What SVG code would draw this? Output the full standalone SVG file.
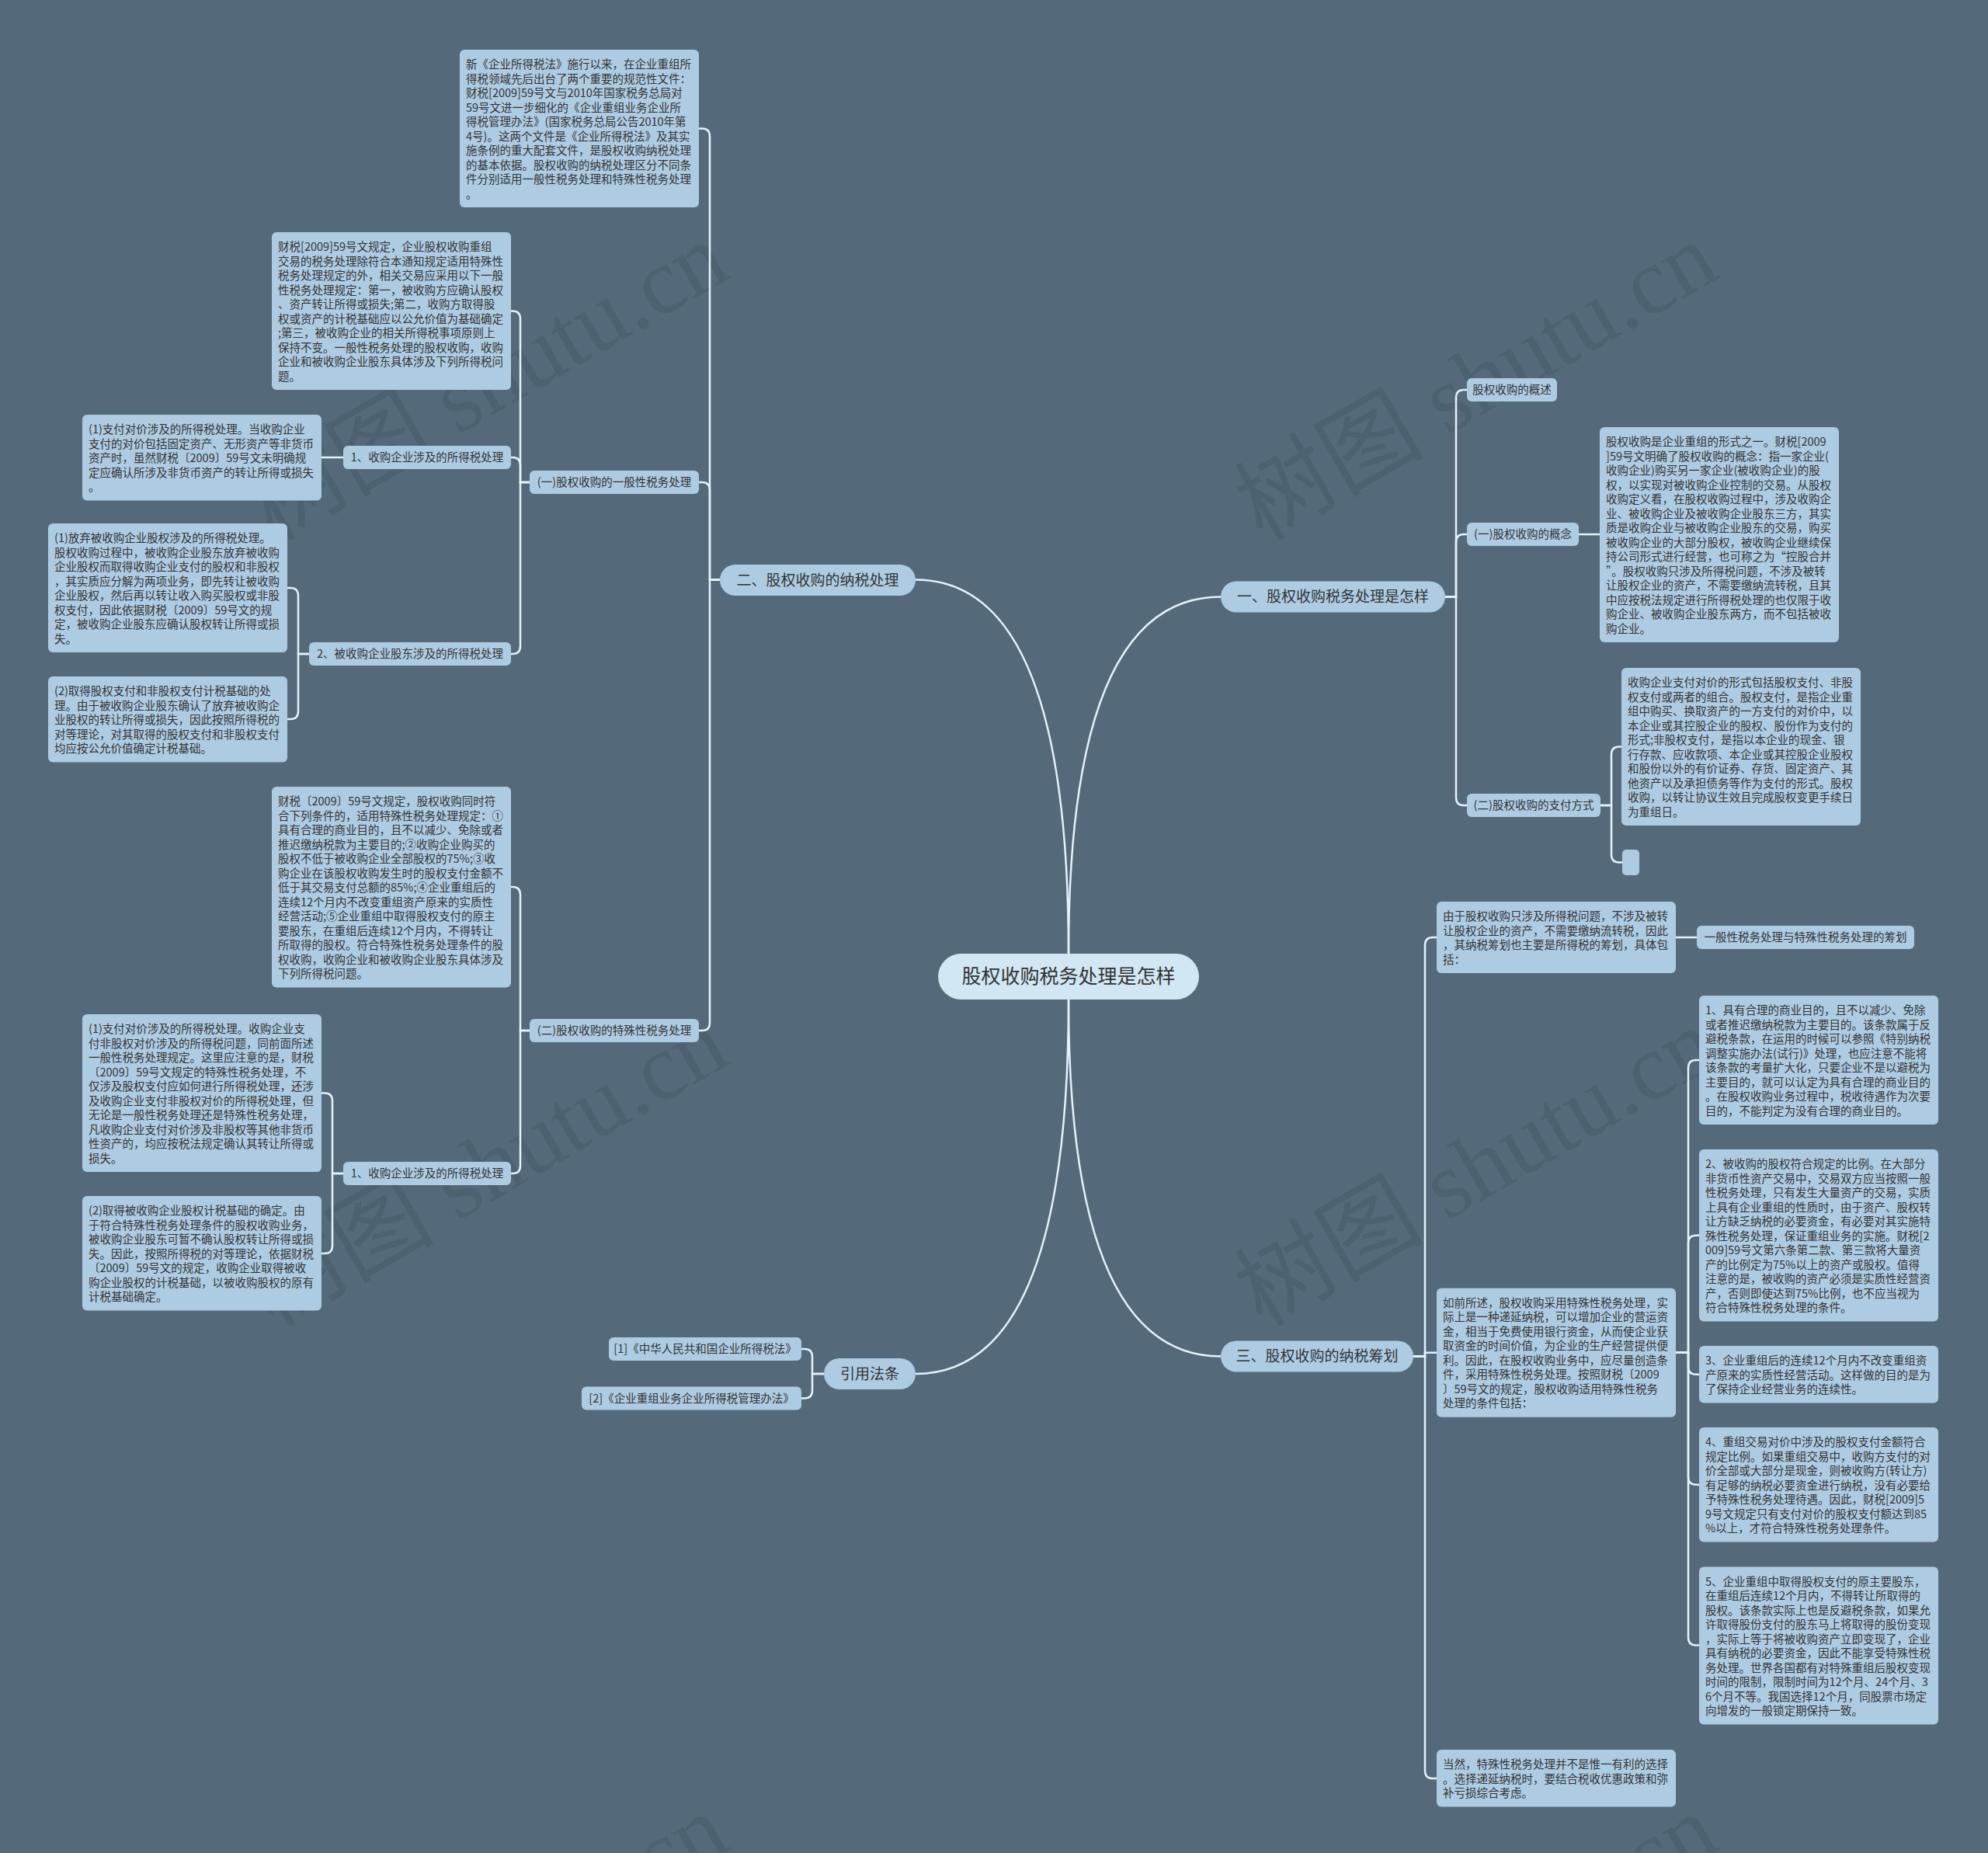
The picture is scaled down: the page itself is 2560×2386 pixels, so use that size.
<svg xmlns="http://www.w3.org/2000/svg" width="2560" height="2386" viewBox="0 0 2560 2386">
<style>
.n{fill:#adcce2}
.c{fill:#d2e7f4}
.t{font-family:"Noto Sans CJK SC","Liberation Sans",sans-serif;font-size:14.5px;fill:#333}
.m{text-anchor:middle}
.l1{font-size:19px}
.root{font-size:25px}
.lk{fill:none;stroke:#e4f2f9;stroke-width:2.5}
.wm{font-family:"Liberation Serif","Noto Sans CJK SC",serif;font-size:122px;fill:#000;opacity:0.07}
</style>
<rect width="2560" height="2386" fill="#546a7a"/>
<g id="watermarks">
<text class="wm" transform="translate(351 698) rotate(-30)">树图 shutu.cn</text>
<text class="wm" transform="translate(1625 698) rotate(-30)">树图 shutu.cn</text>
<text class="wm" transform="translate(351 1710) rotate(-30)">树图 shutu.cn</text>
<text class="wm" transform="translate(1625 1710) rotate(-30)">树图 shutu.cn</text>
<text class="wm" transform="translate(351 2722) rotate(-30)">树图 shutu.cn</text>
<text class="wm" transform="translate(1625 2722) rotate(-30)">树图 shutu.cn</text>
</g>
<g id="connectors" class="lk">
<path d="M1376 1228 Q1376 746.5 1179 746.5"/>
<path d="M1376 1228 Q1376 768.5 1572 768.5"/>
<path d="M1376 1287 Q1376 1746.5 1572 1746.5"/>
<path d="M1376 1287 Q1376 1769 1179 1769"/>
<path d="M927 746.5 H914 V175.5 Q914 165.5 904 165.5 H900"/>
<path d="M927 746.5 H914 V631 Q914 621 904 621 H900"/>
<path d="M927 746.5 H914 V1317 Q914 1327 904 1327 H900"/>
<path d="M682 621 H670 V410.5 Q670 400.5 660 400.5 H658"/>
<path d="M682 621 H670 V599 Q670 589 660 589 H658"/>
<path d="M682 621 H670 V832 Q670 842 660 842 H658"/>
<path d="M442 589 H414"/>
<path d="M398 842 H384 V767 Q384 757 374 757 H370"/>
<path d="M398 842 H384 V916 Q384 926 374 926 H370"/>
<path d="M682 1327 H670 V1152 Q670 1142 660 1142 H658"/>
<path d="M682 1327 H670 V1501 Q670 1511 660 1511 H658"/>
<path d="M442 1511 H428 V1417.5 Q428 1407.5 418 1407.5 H414"/>
<path d="M442 1511 H428 V1604 Q428 1614 418 1614 H414"/>
<path d="M1061 1769 H1046 V1747 Q1046 1737 1036 1737 H1032"/>
<path d="M1061 1769 H1046 V1790.5 Q1046 1800.5 1036 1800.5 H1032"/>
<path d="M1861 768.5 H1875 V512 Q1875 502 1885 502 H1889"/>
<path d="M1861 768.5 H1875 V698 Q1875 688 1885 688 H1889"/>
<path d="M1861 768.5 H1875 V1027 Q1875 1037 1885 1037 H1889"/>
<path d="M2033 688 H2060"/>
<path d="M2061 1037 H2075 V971.5 Q2075 961.5 2085 961.5 H2088"/>
<path d="M2061 1037 H2075 V1100.5 Q2075 1110.5 2085 1110.5 H2089"/>
<path d="M1820 1746.5 H1835 V1217 Q1835 1207 1845 1207 H1850"/>
<path d="M1820 1746.5 H1835 V1741.75 H1850"/>
<path d="M1820 1746.5 H1835 V2280 Q1835 2290 1845 2290 H1850"/>
<path d="M2158 1207 H2185"/>
<path d="M2158 1741.75 H2174 V1375 Q2174 1365 2184 1365 H2188"/>
<path d="M2158 1741.75 H2174 V1600.75 Q2174 1590.75 2184 1590.75 H2188"/>
<path d="M2158 1741.75 H2174 V1759.75 Q2174 1769.75 2184 1769.75 H2188"/>
<path d="M2158 1741.75 H2174 V1901.75 Q2174 1911.75 2184 1911.75 H2188"/>
<path d="M2158 1741.75 H2174 V2108.5 Q2174 2118.5 2184 2118.5 H2188"/>
</g>
<g id="root">
<rect class="c" x="1208" y="1228" width="336" height="59" rx="29.5"/>
<text class="t m root" x="1376" y="1266">股权收购税务处理是怎样</text>
</g>
<g id="n-er">
<rect class="n" x="927" y="727" width="252" height="40" rx="20"/>
<text class="t m l1" x="1053" y="753.5">二、股权收购的纳税处理</text>
</g>
<g id="n-A">
<rect class="n" x="592" y="64" width="308" height="203" rx="6"/>
<text class="t" x="600" y="88"><tspan x="600">新《企业所得税法》施行以来，在企业重组所</tspan><tspan x="600" dy="18.5">得税领域先后出台了两个重要的规范性文件：</tspan><tspan x="600" dy="18.5">财税[2009]59号文与2010年国家税务总局对</tspan><tspan x="600" dy="18.5">59号文进一步细化的《企业重组业务企业所</tspan><tspan x="600" dy="18.5">得税管理办法》(国家税务总局公告2010年第</tspan><tspan x="600" dy="18.5">4号)。这两个文件是《企业所得税法》及其实</tspan><tspan x="600" dy="18.5">施条例的重大配套文件，是股权收购纳税处理</tspan><tspan x="600" dy="18.5">的基本依据。股权收购的纳税处理区分不同条</tspan><tspan x="600" dy="18.5">件分别适用一般性税务处理和特殊性税务处理</tspan><tspan x="600" dy="18.5">。</tspan></text>
</g>
<g id="n-H">
<rect class="n" x="682" y="606" width="218" height="30" rx="6"/>
<text class="t m" x="791" y="626">(一)股权收购的一般性税务处理</text>
</g>
<g id="n-B">
<rect class="n" x="350" y="299" width="308" height="203" rx="6"/>
<text class="t" x="358" y="323"><tspan x="358">财税[2009]59号文规定，企业股权收购重组</tspan><tspan x="358" dy="18.5">交易的税务处理除符合本通知规定适用特殊性</tspan><tspan x="358" dy="18.5">税务处理规定的外，相关交易应采用以下一般</tspan><tspan x="358" dy="18.5">性税务处理规定：第一，被收购方应确认股权</tspan><tspan x="358" dy="18.5">、资产转让所得或损失;第二，收购方取得股</tspan><tspan x="358" dy="18.5">权或资产的计税基础应以公允价值为基础确定</tspan><tspan x="358" dy="18.5">;第三，被收购企业的相关所得税事项原则上</tspan><tspan x="358" dy="18.5">保持不变。一般性税务处理的股权收购，收购</tspan><tspan x="358" dy="18.5">企业和被收购企业股东具体涉及下列所得税问</tspan><tspan x="358" dy="18.5">题。</tspan></text>
</g>
<g id="n-D">
<rect class="n" x="442" y="574" width="216" height="30" rx="6"/>
<text class="t m" x="550" y="594">1、收购企业涉及的所得税处理</text>
</g>
<g id="n-C">
<rect class="n" x="106" y="534" width="308" height="110.5" rx="6"/>
<text class="t" x="114" y="558"><tspan x="114">(1)支付对价涉及的所得税处理。当收购企业</tspan><tspan x="114" dy="18.5">支付的对价包括固定资产、无形资产等非货币</tspan><tspan x="114" dy="18.5">资产时，虽然财税〔2009〕59号文未明确规</tspan><tspan x="114" dy="18.5">定应确认所涉及非货币资产的转让所得或损失</tspan><tspan x="114" dy="18.5">。</tspan></text>
</g>
<g id="n-G">
<rect class="n" x="398" y="827" width="260" height="30" rx="6"/>
<text class="t m" x="528" y="847">2、被收购企业股东涉及的所得税处理</text>
</g>
<g id="n-E">
<rect class="n" x="62" y="674" width="308" height="166" rx="6"/>
<text class="t" x="70" y="698"><tspan x="70">(1)放弃被收购企业股权涉及的所得税处理。</tspan><tspan x="70" dy="18.5">股权收购过程中，被收购企业股东放弃被收购</tspan><tspan x="70" dy="18.5">企业股权而取得收购企业支付的股权和非股权</tspan><tspan x="70" dy="18.5">，其实质应分解为两项业务，即先转让被收购</tspan><tspan x="70" dy="18.5">企业股权，然后再以转让收入购买股权或非股</tspan><tspan x="70" dy="18.5">权支付，因此依据财税〔2009〕59号文的规</tspan><tspan x="70" dy="18.5">定，被收购企业股东应确认股权转让所得或损</tspan><tspan x="70" dy="18.5">失。</tspan></text>
</g>
<g id="n-F">
<rect class="n" x="62" y="871" width="308" height="110.5" rx="6"/>
<text class="t" x="70" y="895"><tspan x="70">(2)取得股权支付和非股权支付计税基础的处</tspan><tspan x="70" dy="18.5">理。由于被收购企业股东确认了放弃被收购企</tspan><tspan x="70" dy="18.5">业股权的转让所得或损失，因此按照所得税的</tspan><tspan x="70" dy="18.5">对等理论，对其取得的股权支付和非股权支付</tspan><tspan x="70" dy="18.5">均应按公允价值确定计税基础。</tspan></text>
</g>
<g id="n-J">
<rect class="n" x="682" y="1312" width="218" height="30" rx="6"/>
<text class="t m" x="791" y="1332">(二)股权收购的特殊性税务处理</text>
</g>
<g id="n-I">
<rect class="n" x="350" y="1013" width="308" height="258.5" rx="6"/>
<text class="t" x="358" y="1037"><tspan x="358">财税〔2009〕59号文规定，股权收购同时符</tspan><tspan x="358" dy="18.5">合下列条件的，适用特殊性税务处理规定：①</tspan><tspan x="358" dy="18.5">具有合理的商业目的，且不以减少、免除或者</tspan><tspan x="358" dy="18.5">推迟缴纳税款为主要目的;②收购企业购买的</tspan><tspan x="358" dy="18.5">股权不低于被收购企业全部股权的75%;③收</tspan><tspan x="358" dy="18.5">购企业在该股权收购发生时的股权支付金额不</tspan><tspan x="358" dy="18.5">低于其交易支付总额的85%;④企业重组后的</tspan><tspan x="358" dy="18.5">连续12个月内不改变重组资产原来的实质性</tspan><tspan x="358" dy="18.5">经营活动;⑤企业重组中取得股权支付的原主</tspan><tspan x="358" dy="18.5">要股东，在重组后连续12个月内，不得转让</tspan><tspan x="358" dy="18.5">所取得的股权。符合特殊性税务处理条件的股</tspan><tspan x="358" dy="18.5">权收购，收购企业和被收购企业股东具体涉及</tspan><tspan x="358" dy="18.5">下列所得税问题。</tspan></text>
</g>
<g id="n-M">
<rect class="n" x="442" y="1496" width="216" height="30" rx="6"/>
<text class="t m" x="550" y="1516">1、收购企业涉及的所得税处理</text>
</g>
<g id="n-K">
<rect class="n" x="106" y="1306" width="308" height="203" rx="6"/>
<text class="t" x="114" y="1330"><tspan x="114">(1)支付对价涉及的所得税处理。收购企业支</tspan><tspan x="114" dy="18.5">付非股权对价涉及的所得税问题，同前面所述</tspan><tspan x="114" dy="18.5">一般性税务处理规定。这里应注意的是，财税</tspan><tspan x="114" dy="18.5">〔2009〕59号文规定的特殊性税务处理，不</tspan><tspan x="114" dy="18.5">仅涉及股权支付应如何进行所得税处理，还涉</tspan><tspan x="114" dy="18.5">及收购企业支付非股权对价的所得税处理，但</tspan><tspan x="114" dy="18.5">无论是一般性税务处理还是特殊性税务处理，</tspan><tspan x="114" dy="18.5">凡收购企业支付对价涉及非股权等其他非货币</tspan><tspan x="114" dy="18.5">性资产的，均应按税法规定确认其转让所得或</tspan><tspan x="114" dy="18.5">损失。</tspan></text>
</g>
<g id="n-L">
<rect class="n" x="106" y="1540" width="308" height="147.5" rx="6"/>
<text class="t" x="114" y="1564"><tspan x="114">(2)取得被收购企业股权计税基础的确定。由</tspan><tspan x="114" dy="18.5">于符合特殊性税务处理条件的股权收购业务，</tspan><tspan x="114" dy="18.5">被收购企业股东可暂不确认股权转让所得或损</tspan><tspan x="114" dy="18.5">失。因此，按照所得税的对等理论，依据财税</tspan><tspan x="114" dy="18.5">〔2009〕59号文的规定，收购企业取得被收</tspan><tspan x="114" dy="18.5">购企业股权的计税基础，以被收购股权的原有</tspan><tspan x="114" dy="18.5">计税基础确定。</tspan></text>
</g>
<g id="n-ref">
<rect class="n" x="1061" y="1749" width="118" height="40" rx="20"/>
<text class="t m l1" x="1120" y="1775.5">引用法条</text>
</g>
<g id="n-ref1">
<rect class="n" x="784" y="1722" width="248" height="30" rx="6"/>
<text class="t m" x="908" y="1742">[1]《中华人民共和国企业所得税法》</text>
</g>
<g id="n-ref2">
<rect class="n" x="749" y="1785.5" width="283" height="30" rx="6"/>
<text class="t m" x="890.5" y="1805.5">[2]《企业重组业务企业所得税管理办法》</text>
</g>
<g id="n-yi">
<rect class="n" x="1572" y="748.5" width="289" height="40" rx="20"/>
<text class="t m l1" x="1716.5" y="775">一、股权收购税务处理是怎样</text>
</g>
<g id="n-gaishu">
<rect class="n" x="1889" y="487" width="116" height="30" rx="6"/>
<text class="t m" x="1947" y="507">股权收购的概述</text>
</g>
<g id="n-gainian">
<rect class="n" x="1889" y="673" width="144" height="30" rx="6"/>
<text class="t m" x="1961" y="693">(一)股权收购的概念</text>
</g>
<g id="n-concept">
<rect class="n" x="2060" y="550" width="308" height="277" rx="6"/>
<text class="t" x="2068" y="574"><tspan x="2068">股权收购是企业重组的形式之一。财税[2009</tspan><tspan x="2068" dy="18.5">]59号文明确了股权收购的概念：指一家企业(</tspan><tspan x="2068" dy="18.5">收购企业)购买另一家企业(被收购企业)的股</tspan><tspan x="2068" dy="18.5">权，以实现对被收购企业控制的交易。从股权</tspan><tspan x="2068" dy="18.5">收购定义看，在股权收购过程中，涉及收购企</tspan><tspan x="2068" dy="18.5">业、被收购企业及被收购企业股东三方，其实</tspan><tspan x="2068" dy="18.5">质是收购企业与被收购企业股东的交易，购买</tspan><tspan x="2068" dy="18.5">被收购企业的大部分股权，被收购企业继续保</tspan><tspan x="2068" dy="18.5">持公司形式进行经营，也可称之为“控股合并</tspan><tspan x="2068" dy="18.5">”。股权收购只涉及所得税问题，不涉及被转</tspan><tspan x="2068" dy="18.5">让股权企业的资产，不需要缴纳流转税，且其</tspan><tspan x="2068" dy="18.5">中应按税法规定进行所得税处理的也仅限于收</tspan><tspan x="2068" dy="18.5">购企业、被收购企业股东两方，而不包括被收</tspan><tspan x="2068" dy="18.5">购企业。</tspan></text>
</g>
<g id="n-zhifu">
<rect class="n" x="1889" y="1022" width="172" height="30" rx="6"/>
<text class="t m" x="1975" y="1042">(二)股权收购的支付方式</text>
</g>
<g id="n-pay">
<rect class="n" x="2088" y="860" width="308" height="203" rx="6"/>
<text class="t" x="2096" y="884"><tspan x="2096">收购企业支付对价的形式包括股权支付、非股</tspan><tspan x="2096" dy="18.5">权支付或两者的组合。股权支付，是指企业重</tspan><tspan x="2096" dy="18.5">组中购买、换取资产的一方支付的对价中，以</tspan><tspan x="2096" dy="18.5">本企业或其控股企业的股权、股份作为支付的</tspan><tspan x="2096" dy="18.5">形式;非股权支付，是指以本企业的现金、银</tspan><tspan x="2096" dy="18.5">行存款、应收款项、本企业或其控股企业股权</tspan><tspan x="2096" dy="18.5">和股份以外的有价证券、存货、固定资产、其</tspan><tspan x="2096" dy="18.5">他资产以及承担债务等作为支付的形式。股权</tspan><tspan x="2096" dy="18.5">收购，以转让协议生效且完成股权变更手续日</tspan><tspan x="2096" dy="18.5">为重组日。</tspan></text>
</g>
<g id="n-empty">
<rect class="n" x="2089" y="1094" width="22" height="33" rx="5"/>
</g>
<g id="n-san">
<rect class="n" x="1572" y="1726.5" width="248" height="40" rx="20"/>
<text class="t m l1" x="1696" y="1753">三、股权收购的纳税筹划</text>
</g>
<g id="n-Q1">
<rect class="n" x="1850" y="1161" width="308" height="92" rx="6"/>
<text class="t" x="1858" y="1185"><tspan x="1858">由于股权收购只涉及所得税问题，不涉及被转</tspan><tspan x="1858" dy="18.5">让股权企业的资产，不需要缴纳流转税，因此</tspan><tspan x="1858" dy="18.5">，其纳税筹划也主要是所得税的筹划，具体包</tspan><tspan x="1858" dy="18.5">括：</tspan></text>
</g>
<g id="n-Q1a">
<rect class="n" x="2185" y="1192" width="280" height="30" rx="6"/>
<text class="t m" x="2325" y="1212">一般性税务处理与特殊性税务处理的筹划</text>
</g>
<g id="n-Q2">
<rect class="n" x="1850" y="1658.75" width="308" height="166" rx="6"/>
<text class="t" x="1858" y="1682.75"><tspan x="1858">如前所述，股权收购采用特殊性税务处理，实</tspan><tspan x="1858" dy="18.5">际上是一种递延纳税，可以增加企业的营运资</tspan><tspan x="1858" dy="18.5">金，相当于免费使用银行资金，从而使企业获</tspan><tspan x="1858" dy="18.5">取资金的时间价值，为企业的生产经营提供便</tspan><tspan x="1858" dy="18.5">利。因此，在股权收购业务中，应尽量创造条</tspan><tspan x="1858" dy="18.5">件，采用特殊性税务处理。按照财税〔2009</tspan><tspan x="1858" dy="18.5">〕59号文的规定，股权收购适用特殊性税务</tspan><tspan x="1858" dy="18.5">处理的条件包括：</tspan></text>
</g>
<g id="n-R1">
<rect class="n" x="2188" y="1282" width="308" height="166" rx="6"/>
<text class="t" x="2196" y="1306"><tspan x="2196">1、具有合理的商业目的，且不以减少、免除</tspan><tspan x="2196" dy="18.5">或者推迟缴纳税款为主要目的。该条款属于反</tspan><tspan x="2196" dy="18.5">避税条款，在运用的时候可以参照《特别纳税</tspan><tspan x="2196" dy="18.5">调整实施办法(试行)》处理，也应注意不能将</tspan><tspan x="2196" dy="18.5">该条款的考量扩大化，只要企业不是以避税为</tspan><tspan x="2196" dy="18.5">主要目的，就可以认定为具有合理的商业目的</tspan><tspan x="2196" dy="18.5">。在股权收购业务过程中，税收待遇作为次要</tspan><tspan x="2196" dy="18.5">目的，不能判定为没有合理的商业目的。</tspan></text>
</g>
<g id="n-R2">
<rect class="n" x="2188" y="1480" width="308" height="221.5" rx="6"/>
<text class="t" x="2196" y="1504"><tspan x="2196">2、被收购的股权符合规定的比例。在大部分</tspan><tspan x="2196" dy="18.5">非货币性资产交易中，交易双方应当按照一般</tspan><tspan x="2196" dy="18.5">性税务处理，只有发生大量资产的交易，实质</tspan><tspan x="2196" dy="18.5">上具有企业重组的性质时，由于资产、股权转</tspan><tspan x="2196" dy="18.5">让方缺乏纳税的必要资金，有必要对其实施特</tspan><tspan x="2196" dy="18.5">殊性税务处理，保证重组业务的实施。财税[2</tspan><tspan x="2196" dy="18.5">009]59号文第六条第二款、第三款将大量资</tspan><tspan x="2196" dy="18.5">产的比例定为75%以上的资产或股权。值得</tspan><tspan x="2196" dy="18.5">注意的是，被收购的资产必须是实质性经营资</tspan><tspan x="2196" dy="18.5">产，否则即使达到75%比例，也不应当视为</tspan><tspan x="2196" dy="18.5">符合特殊性税务处理的条件。</tspan></text>
</g>
<g id="n-R3">
<rect class="n" x="2188" y="1733" width="308" height="73.5" rx="6"/>
<text class="t" x="2196" y="1757"><tspan x="2196">3、企业重组后的连续12个月内不改变重组资</tspan><tspan x="2196" dy="18.5">产原来的实质性经营活动。这样做的目的是为</tspan><tspan x="2196" dy="18.5">了保持企业经营业务的连续性。</tspan></text>
</g>
<g id="n-R4">
<rect class="n" x="2188" y="1838" width="308" height="147.5" rx="6"/>
<text class="t" x="2196" y="1862"><tspan x="2196">4、重组交易对价中涉及的股权支付金额符合</tspan><tspan x="2196" dy="18.5">规定比例。如果重组交易中，收购方支付的对</tspan><tspan x="2196" dy="18.5">价全部或大部分是现金，则被收购方(转让方)</tspan><tspan x="2196" dy="18.5">有足够的纳税必要资金进行纳税，没有必要给</tspan><tspan x="2196" dy="18.5">予特殊性税务处理待遇。因此，财税[2009]5</tspan><tspan x="2196" dy="18.5">9号文规定只有支付对价的股权支付额达到85</tspan><tspan x="2196" dy="18.5">%以上，才符合特殊性税务处理条件。</tspan></text>
</g>
<g id="n-R5">
<rect class="n" x="2188" y="2017.5" width="308" height="203" rx="6"/>
<text class="t" x="2196" y="2041.5"><tspan x="2196">5、企业重组中取得股权支付的原主要股东，</tspan><tspan x="2196" dy="18.5">在重组后连续12个月内，不得转让所取得的</tspan><tspan x="2196" dy="18.5">股权。该条款实际上也是反避税条款，如果允</tspan><tspan x="2196" dy="18.5">许取得股份支付的股东马上将取得的股份变现</tspan><tspan x="2196" dy="18.5">，实际上等于将被收购资产立即变现了，企业</tspan><tspan x="2196" dy="18.5">具有纳税的必要资金，因此不能享受特殊性税</tspan><tspan x="2196" dy="18.5">务处理。世界各国都有对特殊重组后股权变现</tspan><tspan x="2196" dy="18.5">时间的限制，限制时间为12个月、24个月、3</tspan><tspan x="2196" dy="18.5">6个月不等。我国选择12个月，同股票市场定</tspan><tspan x="2196" dy="18.5">向增发的一般锁定期保持一致。</tspan></text>
</g>
<g id="n-Q3">
<rect class="n" x="1850" y="2253" width="308" height="73.5" rx="6"/>
<text class="t" x="1858" y="2277"><tspan x="1858">当然，特殊性税务处理并不是惟一有利的选择</tspan><tspan x="1858" dy="18.5">。选择递延纳税时，要结合税收优惠政策和弥</tspan><tspan x="1858" dy="18.5">补亏损综合考虑。</tspan></text>
</g>
</svg>
